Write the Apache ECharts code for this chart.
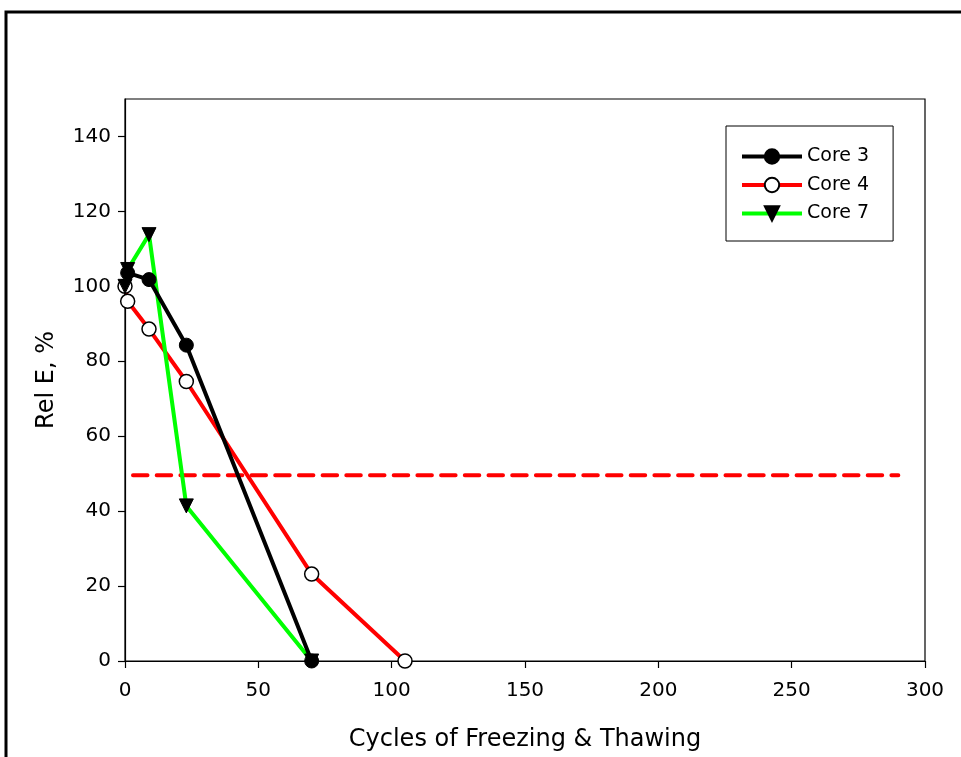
<!DOCTYPE html>
<html>
<head>
<meta charset="utf-8">
<script src="https://cdn.jsdelivr.net/npm/echarts@6/dist/echarts.min.js"></script>
<style>
  html, body { margin: 0; padding: 0; background: #fff; }
  #chart { width: 961px; height: 757px; }
</style>
</head>
<body>
<div id="chart"></div>
<script>
// cycles / relative E values
var core3X = [1, 9, 23, 70];
var core3Y = [103.6, 101.8, 84.3, 0];
var core4X = [0, 1, 9, 23, 70, 105];
var core4Y = [100, 96, 88.6, 74.6, 23.2, 0];
var core7X = [0, 1, 9, 23, 70];
var core7Y = [100, 104.5, 113.8, 41.4, 0];
var limitX = [3, 290];
var limitY = [49.6, 49.6];

function pairs(xs, ys) {
    var out = [];
    for (var i = 0; i < xs.length; i++) {
        out.push([xs[i], ys[i]]);
    }
    return out;
}

var myChart = echarts.init(document.getElementById('chart'));
var fontFam = 'DejaVu Sans, sans-serif';

var option = {
    animation: false,
    backgroundColor: '#fff',
    textStyle: { fontFamily: fontFam, color: '#000' },
    graphic: [{
        type: 'rect',
        shape: { x: 6, y: 12, width: 1100, height: 900 },
        style: { fill: 'none', stroke: '#000', lineWidth: 3 },
        silent: true
    }],
    grid: {
        left: 125, right: 36, top: 99, bottom: 96,
        show: true, borderColor: '#000', borderWidth: 1.2,
        backgroundColor: 'transparent'
    },
    legend: {
        left: 726, top: 126,
        orient: 'vertical',
        data: ['Core 3', 'Core 4', 'Core 7'],
        itemWidth: 60, itemHeight: 18, itemGap: 9.5,
        padding: [21, 24, 18, 14],
        borderColor: '#000', borderWidth: 1,
        lineStyle: { width: 4 },
        textStyle: { fontSize: 19, fontFamily: fontFam, color: '#000' }
    },
    xAxis: {
        type: 'value',
        min: 0, max: 300, interval: 50,
        name: 'Cycles of Freezing & Thawing',
        nameLocation: 'middle', nameGap: 67,
        nameTextStyle: { fontSize: 24, fontFamily: fontFam, color: '#000' },
        axisLine: { show: true, lineStyle: { color: '#000', width: 1.2 } },
        axisTick: { show: true, inside: false, length: 7, lineStyle: { color: '#000', width: 1.2 } },
        axisLabel: { fontSize: 20, color: '#000', margin: 20 },
        splitLine: { show: false }
    },
    yAxis: {
        type: 'value',
        min: 0, max: 150, interval: 20,
        name: 'Rel E, %',
        nameLocation: 'middle', nameGap: 66,
        nameTextStyle: { fontSize: 24, fontFamily: fontFam, color: '#000' },
        axisLine: { show: true, lineStyle: { color: '#000', width: 1.2 } },
        axisTick: { show: true, inside: false, length: 7, lineStyle: { color: '#000', width: 1.2 } },
        axisLabel: { fontSize: 20, color: '#000', margin: 14, showMaxLabel: false },
        splitLine: { show: false }
    },
    series: [{
        name: 'Core 3',
        type: 'line',
        data: pairs(core3X, core3Y),
        symbol: 'circle', symbolSize: 14,
        lineStyle: { color: '#000', width: 4 },
        itemStyle: { color: '#000', borderColor: '#000', borderWidth: 1 },
        z: 6
    }, {
        name: 'Core 4',
        type: 'line',
        data: pairs(core4X, core4Y),
        symbol: 'circle', symbolSize: 14,
        lineStyle: { color: '#ff0000', width: 4 },
        itemStyle: { color: '#fff', borderColor: '#000', borderWidth: 1.5 },
        z: 4
    }, {
        name: 'Core 7',
        type: 'line',
        data: pairs(core7X, core7Y),
        symbol: 'triangle', symbolSize: 14, symbolRotate: 180,
        lineStyle: { color: '#00ff00', width: 4 },
        itemStyle: { color: '#000', borderColor: '#000', borderWidth: 1 },
        z: 5
    }, {
        name: 'limit',
        type: 'line',
        data: pairs(limitX, limitY),
        symbol: 'none',
        lineStyle: { color: '#ff0000', width: 4, type: [14.5, 9.2], cap: 'round' },
        z: 2
    }]
};

myChart.setOption(option);
</script>
</body>
</html>
